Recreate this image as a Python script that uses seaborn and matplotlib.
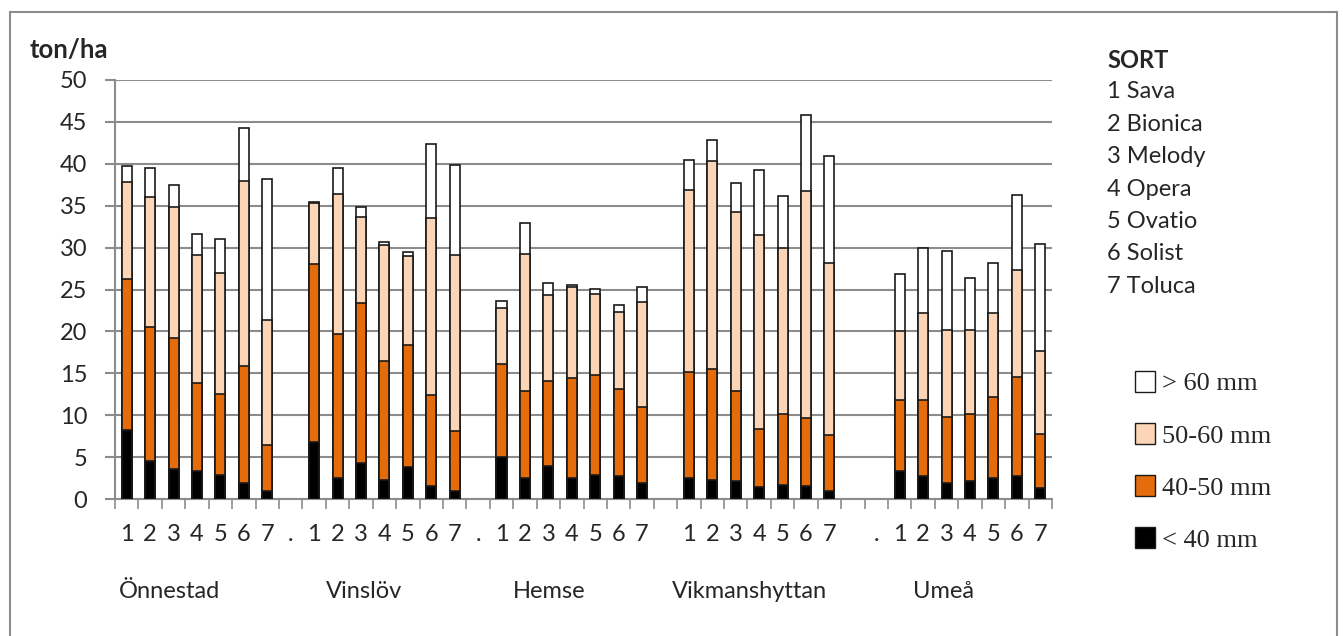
import matplotlib
matplotlib.use("Agg")
import matplotlib.pyplot as plt
import numpy as np
import pandas as pd
import seaborn as sns
from matplotlib.patches import Patch, Rectangle

# --- data (ton/ha per size class, 7 sorts per location) ---
locations = ["Önnestad", "Vinslöv", "Hemse", "Vikmanshyttan", "Umeå"]
sorts = ["Sava", "Bionica", "Melody", "Opera", "Ovatio", "Solist", "Toluca"]
size_classes = ["< 40 mm", "40-50 mm", "50-60 mm", "> 60 mm"]

under_40 = [
    [8.2, 4.5, 3.6, 3.4, 2.9, 1.9, 1.0],
    [6.8, 2.5, 4.3, 2.3, 3.8, 1.5, 1.0],
    [5.0, 2.5, 3.9, 2.5, 2.9, 2.7, 1.9],
    [2.5, 2.3, 2.1, 1.4, 1.7, 1.6, 1.0],
    [3.3, 2.7, 1.9, 2.1, 2.5, 2.7, 1.3],
]
mm_40_50 = [
    [18.0, 16.0, 15.6, 10.4, 9.6, 14.0, 5.5],
    [21.2, 17.2, 19.1, 14.2, 14.6, 10.9, 7.1],
    [11.1, 10.4, 10.2, 11.9, 11.9, 10.4, 9.1],
    [12.7, 13.2, 10.8, 7.0, 8.5, 8.1, 6.6],
    [8.5, 9.1, 7.9, 8.1, 9.7, 11.9, 6.5],
]
mm_50_60 = [
    [11.6, 15.5, 15.6, 15.3, 14.5, 22.1, 14.9],
    [7.3, 16.7, 10.2, 13.8, 10.6, 21.1, 21.0],
    [6.7, 16.3, 10.2, 10.9, 9.7, 9.2, 12.5],
    [21.7, 24.8, 21.3, 23.1, 19.8, 27.1, 20.6],
    [8.2, 10.4, 10.4, 10.0, 10.0, 12.7, 9.9],
]
over_60 = [
    [1.9, 3.5, 2.7, 2.5, 4.0, 6.3, 16.8],
    [0.2, 3.1, 1.3, 0.4, 0.5, 8.9, 10.7],
    [0.8, 3.7, 1.5, 0.2, 0.6, 0.9, 1.8],
    [3.6, 2.5, 3.5, 7.8, 6.1, 9.0, 12.7],
    [6.9, 7.8, 9.4, 6.2, 6.0, 9.0, 12.7],
]
# labels of the empty slots that follow each location
gap_labels = [["."], ["."], [""], ["", "."], []]

colors = {"< 40 mm": "#000000", "40-50 mm": "#E46C0A",
          "50-60 mm": "#FBD5B5", "> 60 mm": "#FFFFFF"}

W, H = 1343, 636


def fx(x):
    return x / W


def fy(y):
    return 1 - y / H


# build the slot order and a long table
order, tick_labels, rows = [], [], []
layers = [under_40, mm_40_50, mm_50_60, over_60]
for li, loc in enumerate(locations):
    for si in range(len(sorts)):
        slot = f"{loc}|{si + 1}"
        order.append(slot)
        tick_labels.append(str(si + 1))
        top = 0.0
        for cls, layer in zip(size_classes, layers):
            top += layer[li][si]
            rows.append({"slot": slot, "size": cls, "top": top})
    for gi, lab in enumerate(gap_labels[li]):
        order.append(f"gap{li}_{gi}")
        tick_labels.append(lab)
df = pd.DataFrame(rows)

sns.set_style("white")
plt.rcParams["font.family"] = ["Lato", "DejaVu Sans"]

fig = plt.figure(figsize=(W / 100, H / 100), dpi=100)
ax = fig.add_axes([fx(115), fy(499), fx(1052) - fx(115), fy(80) - fy(499)])

# draw stacks from the top layer down so lower segments sit over upper ones
for cls in reversed(size_classes):
    sns.barplot(data=df[df["size"] == cls], x="slot", y="top", order=order,
                color=colors[cls], edgecolor="#1a1a1a", linewidth=1.2,
                saturation=1, width=0.43, errorbar=None, ax=ax, zorder=3)

ax.set_xlim(-0.5, len(order) - 0.5)
ax.set_ylim(0, 50)
ax.set_yticks(np.arange(0, 51, 5))
ax.yaxis.grid(True, color="#8c8c8c", linewidth=1.5, zorder=0)
ax.set_axisbelow(True)
ax.set_xlabel("")
ax.set_ylabel("")

ax.set_xticks(range(len(order)))
ax.set_xticklabels(tick_labels, fontsize=17)
ax.set_xticks(np.arange(-0.5, len(order), 1), minor=True)
ax.tick_params(axis="x", which="major", length=0, pad=18)
ax.tick_params(axis="x", which="minor", length=7, width=1.2,
               color="#8c8c8c", direction="out", bottom=True)
ax.tick_params(axis="y", length=7, width=1.5, color="#8c8c8c",
               direction="out", left=True, pad=13, labelsize=17)

for side in ["top", "right"]:
    ax.spines[side].set_visible(False)
for side in ["left", "bottom"]:
    ax.spines[side].set_color("#8c8c8c")
    ax.spines[side].set_linewidth(1.5)

# outer frame
fig.patches.append(Rectangle((fx(10), -0.02), fx(1337) - fx(10),
                             fy(12) + 0.02, transform=fig.transFigure,
                             fill=False, edgecolor="#8c8c8c", linewidth=1.5))

fig.text(fx(30), fy(50), "ton/ha", fontsize=18.5, fontweight="bold",
         ha="left", va="center")

label_x = [119, 326, 513, 672, 913]
for x, loc in zip(label_x, locations):
    fig.text(fx(x), fy(592), loc, fontsize=17, ha="left", va="center")

fig.text(fx(1107), fy(60), "SORT", fontsize=17, fontweight="bold",
         ha="left", va="center")
for i, s in enumerate(sorts):
    fig.text(fx(1107), fy(92 + 32.4 * i), f"{i + 1} {s}", fontsize=17,
             ha="left", va="center")

handles = [Patch(facecolor=colors[c], edgecolor="#1a1a1a", linewidth=1)
           for c in reversed(size_classes)]
fig.legend(handles, list(reversed(size_classes)), loc="upper left",
           bbox_to_anchor=(fx(1111), fy(347)), frameon=False,
           handlelength=0.75, handleheight=0.85, handletextpad=0.3,
           labelspacing=1.04, prop={"family": "Liberation Serif", "size": 19})

fig.savefig("out.png", dpi=100)
